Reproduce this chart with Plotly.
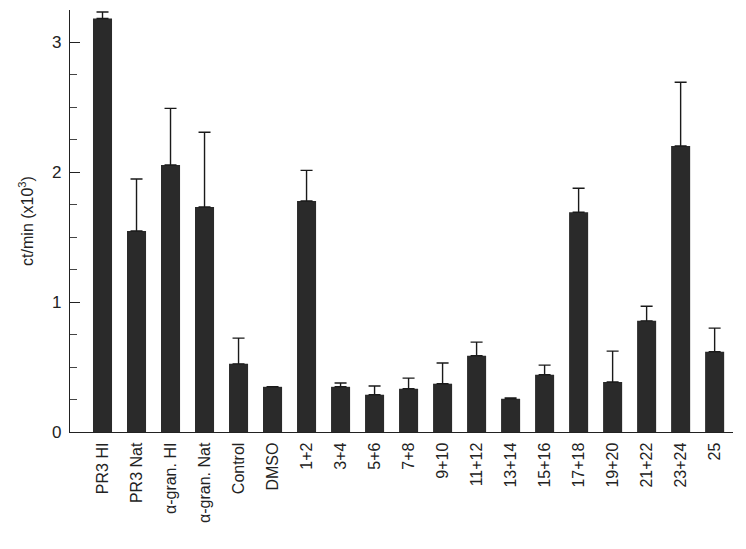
import plotly.graph_objects as go

categories = ["PR3 HI", "PR3 Nat", "α-gran. HI", "α-gran. Nat", "Control", "DMSO",
              "1+2", "3+4", "5+6", "7+8", "9+10", "11+12", "13+14", "15+16",
              "17+18", "19+20", "21+22", "23+24", "25"]
values = [3.185, 1.548, 2.056, 1.733, 0.525, 0.348,
          1.779, 0.348, 0.287, 0.333, 0.372, 0.587, 0.256, 0.441,
          1.692, 0.385, 0.856, 2.203, 0.618]
errors = [0.05, 0.40, 0.436, 0.575, 0.198, None,
          0.236, 0.029, 0.067, 0.082, 0.159, 0.105, 0.006, 0.074,
          0.185, 0.238, 0.113, 0.49, 0.182]

fig = go.Figure()
fig.add_trace(go.Bar(
    x=categories, y=values, width=0.56,
    marker=dict(color="#2a2a2a", line=dict(width=0)),
    error_y=dict(type="data", symmetric=False, array=errors,
                 arrayminus=[0] * len(values),
                 color="#1a1a1a", thickness=1.4, width=6),
))

font_family = "Liberation Sans, Arial, sans-serif"
fig.update_layout(
    width=738, height=541,
    margin=dict(l=62, r=13, t=2, b=117, autoexpand=False),
    paper_bgcolor="white", plot_bgcolor="white",
    showlegend=False,
    font=dict(family=font_family, color="#222", size=16),
    bargap=0.44,
)
fig.update_xaxes(
    type="category", range=[-0.956, 18.54],
    showline=True, linecolor="#222", linewidth=1.4,
    showgrid=False, zeroline=False, ticks="",
    tickangle=-90, tickfont=dict(size=16, color="#222"),
    ticklabelstandoff=3, automargin=False,
)
fig.update_yaxes(
    range=[0, 3.25], tickvals=[0, 1, 2, 3], ticktext=["0", "1", "2", "3"],
    showline=True, linecolor="#222", linewidth=1.4,
    showgrid=False, zeroline=False,
    ticks="inside", ticklen=10, tickwidth=1.4, tickcolor="#222",
    minor=dict(ticks="inside", ticklen=7, dtick=0.25, tick0=0,
               tickwidth=1.2, tickcolor="#444", showgrid=False),
    tickfont=dict(size=17, color="#222"),
    ticklabelstandoff=4,
    title=dict(text="ct/min (x10<sup>3</sup>)", font=dict(size=16, color="#222"), standoff=14),
    automargin=False,
)

fig.write_html("out.html")
